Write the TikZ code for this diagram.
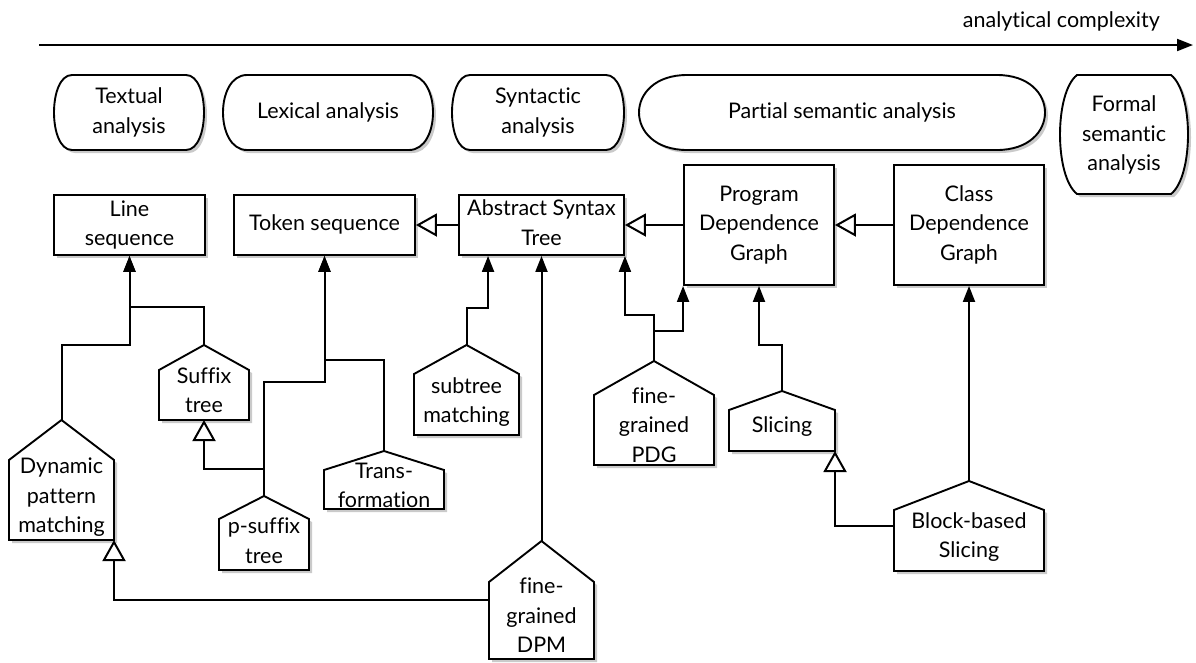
\documentclass[tikz,border=0pt]{standalone}
\usepackage{fontspec}
\setmainfont{Lato}[Ligatures={NoCommon}]
\usetikzlibrary{arrows.meta,shadows}
\tikzset{
  boxline/.style={draw=black,line width=1.9pt,fill=white},
  shadowed/.style={drop shadow={shadow xshift=3pt,shadow yshift=-3pt,opacity=.35,fill=black!60}},
  txt/.style={align=center,inner sep=0pt,font=\fontsize{21.5}{29.5}\selectfont},
  conn/.style={line width=2pt},
  fa/.style={conn,-{Triangle[length=16pt,width=12pt]}},
  oa/.style={conn,-{Triangle[open,length=21pt,width=23pt,fill=white]}},
}
\newcommand\myhouse[8]{%
  \draw[boxline,shadowed] (#2,#6) -- (#2,#5) -- ({(#2+#3)/2},#4) -- (#3,#5) -- (#3,#6) -- cycle;
  \coordinate (#1-apex) at ({(#2+#3)/2},#4);
  \coordinate (#1-s) at ({(#2+#3)/2},#6);
  \coordinate (#1-se) at (#3,#6);
  \node[txt,name=#1] at ({(#2+#3)/2},#7) {#8};
}
\newcommand\myrbox[9]{%
  \draw[boxline,shadowed] ({#2+#6},#3) -- ({#4-#6},#3)
    .. controls ({#4+#6/3},{#3+#7}) and ({#4+#6/3},{#5-#7}) .. ({#4-#6},#5)
    -- ({#2+#6},#5)
    .. controls ({#2-#6/3},{#5-#7}) and ({#2-#6/3},{#3+#7}) .. ({#2+#6},#3) -- cycle;
  \node[txt,name=#1] at ({(#2+#4)/2},#8) {#9};
}
\begin{document}
\begin{tikzpicture}[x=1pt,y=-1pt]
\useasboundingbox (0,0) rectangle (1196,662);

% axis
\coordinate (axS) at (39,45);
\coordinate (axE) at (1193,45);
\draw[conn,-{Triangle[length=16pt,width=12pt]}] (axS) -- (axE);
\node[txt,anchor=base east,name=axlab] at (1160,27) {analytical complexity};

% top categories
\myrbox{ta}{54}{75}{204}{150}{18}{0}{112.5}{Textual\\analysis}
\myrbox{la}{223}{75}{433}{150}{24}{0}{112.5}{Lexical analysis}
\myrbox{sa}{452}{75}{624}{150}{18}{0}{112.5}{Syntactic\\analysis}
\myrbox{psa}{639}{75}{1045}{150}{48}{0}{112.5}{Partial semantic analysis}
\myrbox{fsa}{1060}{75}{1188}{194}{17}{18}{135}{Formal\\semantic\\analysis}

% representation boxes
\node[boxline,shadowed,minimum width=151pt,minimum height=60pt,inner sep=0pt] (ls) at (129.5,225) {};
\node[txt,name=lst] at (129.5,224.8) {Line\\sequence};
\node[boxline,shadowed,minimum width=181pt,minimum height=60pt,inner sep=0pt] (ts) at (324.5,225) {};
\node[txt,name=tst] at (324.5,224.8) {Token sequence};
\node[boxline,shadowed,minimum width=165pt,minimum height=60pt,inner sep=0pt] (ast) at (541.5,225) {};
\node[txt,name=astt] at (541.5,222.8) {Abstract Syntax\\Tree};
\node[boxline,shadowed,minimum width=150pt,minimum height=120pt,inner sep=0pt] (pdg) at (759,225) {};
\node[txt,name=pdgt] at (759,224.8) {Program\\Dependence\\Graph};
\node[boxline,shadowed,minimum width=150pt,minimum height=120pt,inner sep=0pt] (cdg) at (969,225) {};
\node[txt,name=cdgt] at (969,224.8) {Class\\Dependence\\Graph};

% techniques
\myhouse{st}{159}{249}{345}{370}{420}{390.3}{Suffix\\tree}
\myhouse{dpm}{9}{114}{420}{460}{540}{497.3}{Dynamic\\pattern\\matching}
\myhouse{ps}{219}{309}{496}{519}{570}{540.6}{p-suffix\\tree}
\myhouse{tr}{324}{444}{451}{470}{509}{485.3}{Trans-\\formation}
\myhouse{sm}{414}{519}{345}{374}{435}{402}{subtree\\matching}
\myhouse{fpdg}{594}{714}{361}{395}{465}{425}{fine-\\grained\\PDG}
\myhouse{sl}{729}{835}{391}{410}{451}{426.8}{Slicing}
\myhouse{fdpm}{489}{594}{541}{582}{659}{615.6}{fine-\\grained\\DPM}
\myhouse{bbs}{894}{1044}{481}{510}{571}{537}{Block-based\\Slicing}

\coordinate (fdpm-w) at (489,600);
\coordinate (bbs-w) at (894,526);
\coordinate (ast-s1) at ([xshift=30pt]ast.south west);

% generalisation arrows between representations
\draw[oa] (ast.west) -- (ts.east);
\draw[oa] (pdg.west) -- (ast.east);
\draw[oa] (cdg.west) -- (pdg.east);

% technique -> representation
\draw[fa] (st-apex) -- ++(0,-38) -| (ls.south);
\draw[fa] (dpm-apex) -- ++(0,-75) -| (ls.south);
\draw[fa] (ps-apex) -- ++(0,-114) -| (ts.south);
\draw[fa] (tr-apex) -- ++(0,-91) -| (ts.south);
\draw[fa] (sm-apex) -- ++(0,-37) -| (ast-s1);
\draw[fa] (fdpm-apex) -- (ast.south);
\draw[fa] (fpdg-apex) -- ++(0,-46) -| (ast.south east);
\draw[fa] (fpdg-apex) -- ++(0,-30) -| (pdg.south west);
\draw[fa] (sl-apex) -- ++(0,-46) -| (pdg.south);
\draw[fa] (bbs-apex) -- (cdg.south);

% technique specialisations
\draw[oa] (ps-apex) -- ++(0,-27) -| (st-s);
\draw[oa] (fdpm-w) -| (dpm-se);
\draw[oa] (bbs-w) -| (sl-se);
\end{tikzpicture}
\end{document}
